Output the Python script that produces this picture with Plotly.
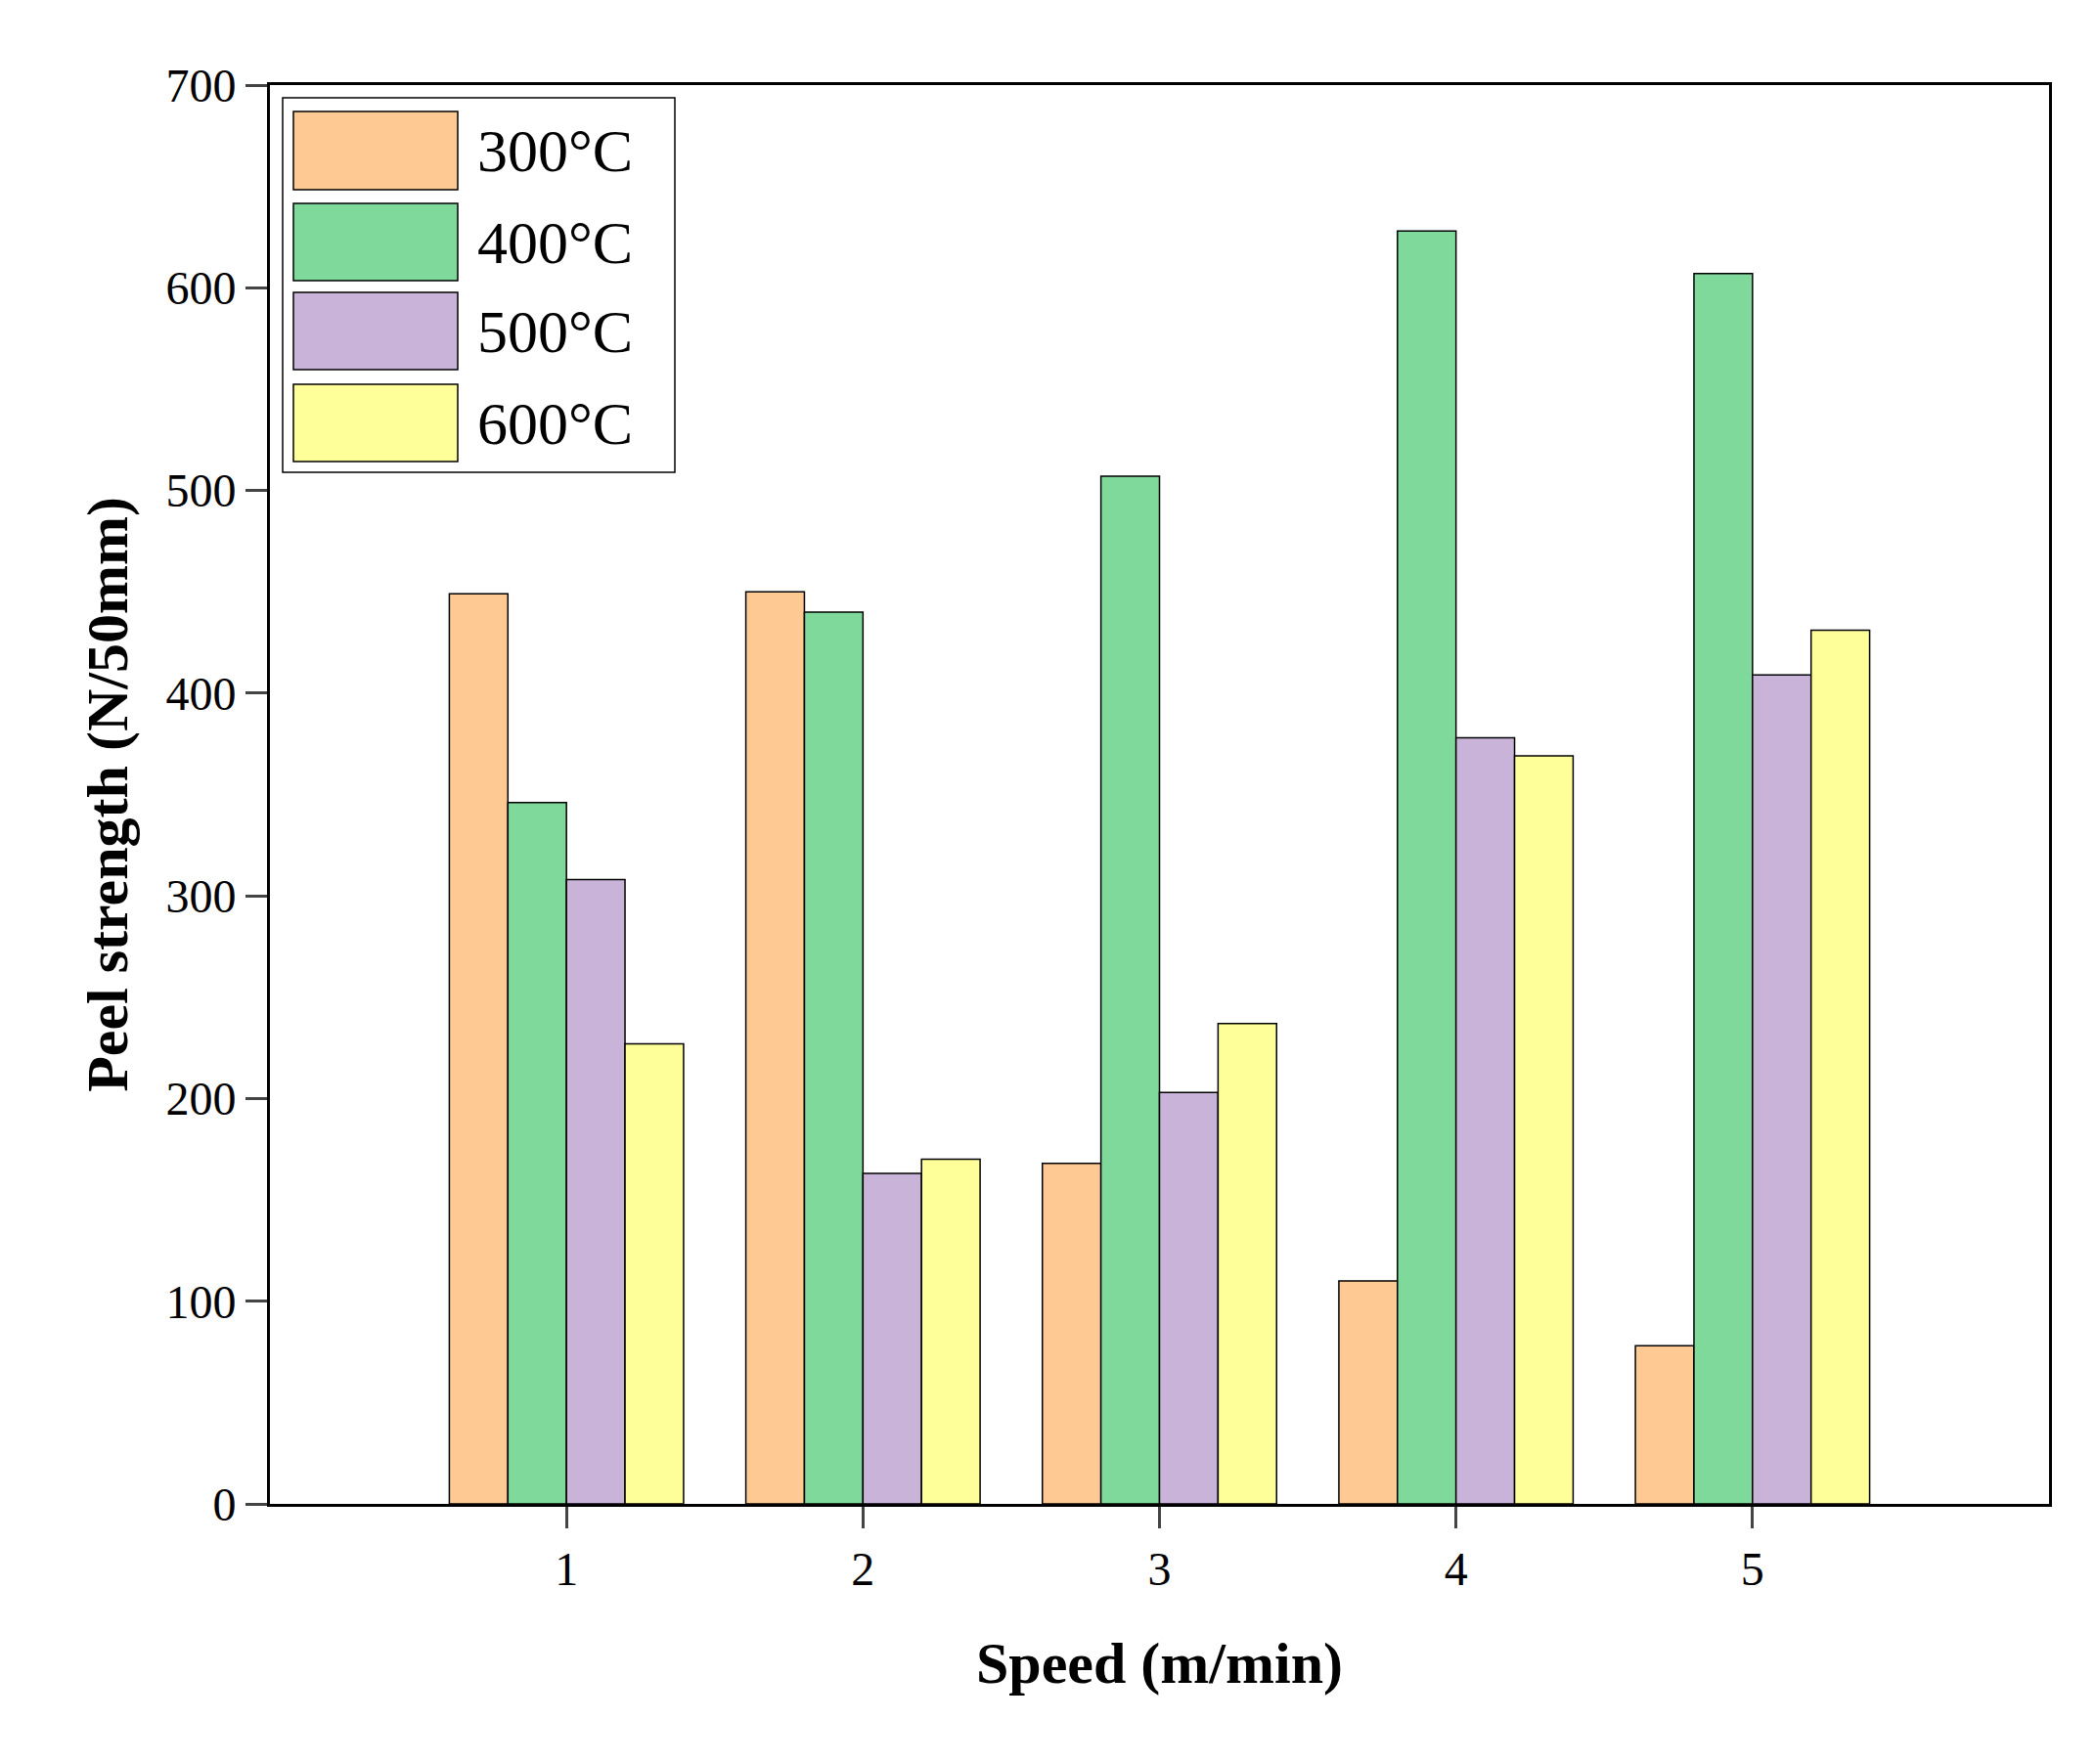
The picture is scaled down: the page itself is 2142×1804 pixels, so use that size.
import plotly.graph_objects as go

speeds = [1, 2, 3, 4, 5]
series_names = ["300°C", "400°C", "500°C", "600°C"]
peel_300 = [449, 450, 168, 110, 78]
peel_400 = [346, 440, 507, 628, 607]
peel_500 = [308, 163, 203, 378, 409]
peel_600 = [227, 170, 237, 369, 431]
y_ticks = [0, 100, 200, 300, 400, 500, 600, 700]

colors = ["#FFC994", "#7FD99A", "#C9B3D8", "#FFFF99"]
all_values = [peel_300, peel_400, peel_500, peel_600]

W, H = 2142, 1804
L, R, T, B = 268, 55, 79, 274
pw, ph = W - L - R, H - T - B
font = "Liberation Serif"

fig = go.Figure()
for name, vals, col in zip(series_names, all_values, colors):
    fig.add_trace(go.Bar(x=speeds, y=vals, name=name, marker=dict(color=col, line=dict(color="black", width=1.5)),
                         showlegend=False))


def px_x(p):
    return (p - L) / pw


def px_y(p):
    return (H - B - p) / ph


# hand-drawn legend box with large swatches
shapes = [dict(type="rect", xref="paper", yref="paper", x0=px_x(281), x1=px_x(682), y0=px_y(475), y1=px_y(92),
               line=dict(color="black", width=1.5), fillcolor="white")]
annotations = []
rows = [(106, 186), (200, 279), (291, 370), (385, 464)]
for (top, bot), name, col in zip(rows, series_names, colors):
    shapes.append(dict(type="rect", xref="paper", yref="paper", x0=px_x(292), x1=px_x(460), y0=px_y(bot), y1=px_y(top),
                       line=dict(color="black", width=1.5), fillcolor=col))
    annotations.append(dict(text=name, xref="paper", yref="paper", x=px_x(478), y=px_y((top + bot) / 2),
                            xanchor="left", yanchor="middle", showarrow=False,
                            font=dict(family=font, size=62, color="black")))

fig.update_layout(
    width=W, height=H,
    margin=dict(l=L, r=R, t=T, b=B),
    plot_bgcolor="white", paper_bgcolor="white",
    barmode="group", bargap=0.21, bargroupgap=0,
    font=dict(family=font, color="black"),
    shapes=shapes, annotations=annotations,
    xaxis=dict(range=[0, 6], tickvals=speeds, ticks="outside", ticklen=22, tickwidth=3,
               showline=True, linecolor="black", linewidth=3, mirror=True, showgrid=False,
               tickfont=dict(size=48), title=dict(text="<b>Speed (m/min)</b>", font=dict(size=60), standoff=50)),
    yaxis=dict(range=[0, 700], tickvals=y_ticks, ticks="outside", ticklen=22, tickwidth=3,
               showline=True, linecolor="black", linewidth=3, mirror=True, showgrid=False, zeroline=False,
               tickfont=dict(size=48), title=dict(text="<b>Peel strength (N/50mm)</b>", font=dict(size=60), standoff=20)),
)

fig.write_html("out.html")
